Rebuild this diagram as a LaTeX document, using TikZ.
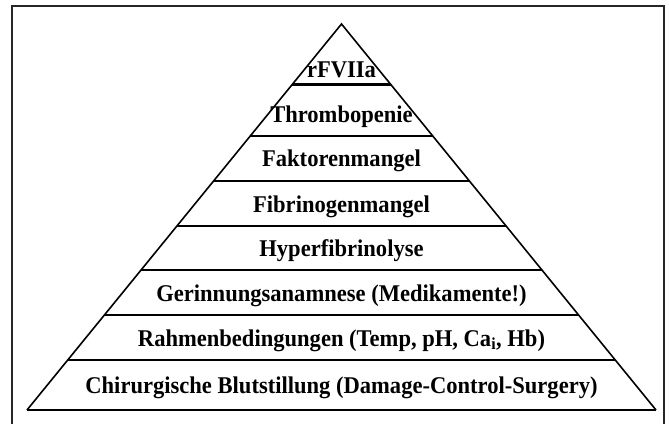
\documentclass[tikz,border=0pt]{standalone}
\usepackage{fontspec}
\setmainfont{Liberation Serif}
\begin{document}
\begin{tikzpicture}[x=1pt,y=-1pt,
  frameline/.style={line width=1.4pt, draw=black!85},
  sideline/.style={line width=1.6pt, line join=miter},
  levelline/.style={line width=2.2pt},
  lbl/.style={font=\bfseries\fontsize{24}{27}\selectfont, inner sep=0pt, anchor=base}]
\useasboundingbox (0,0) rectangle (669,423);
\newcommand{\sq}[1]{\scalebox{0.94}[1]{#1}}
% frame
\draw[frameline] (12,424) -- (12,6) -- (664,6) -- (664,424);
% pyramid corners
\coordinate (A) at (341.5,24);
\coordinate (BL) at (27,410);
\coordinate (BR) at (656,410);
% level points: x = 341.5 -/+ 0.8148*(y-24)
\foreach \n/\y in {1/84.5,2/136,3/181,4/226,5/270,6/315,7/360}{
  \pgfmathsetmacro{\hw}{0.8148*(\y-24)}
  \coordinate (L\n) at ({341.5-\hw},\y);
  \coordinate (R\n) at ({341.5+\hw},\y);
}
\foreach \n in {1,...,7}{\draw[levelline] (L\n) -- (R\n);}
\draw[levelline] (BL) -- (BR);
\draw[sideline] (BL) -- (A) -- (BR);
% labels
\node[lbl] (t1) at (341.5,77) {\sq{rFVIIa}};
\node[lbl] (t2) at (341.5,122) {\sq{Thrombopenie}};
\node[lbl] (t3) at (341.5,166) {\sq{Faktorenmangel}};
\node[lbl] (t4) at (341.5,212) {\sq{Fibrinogenmangel}};
\node[lbl] (t5) at (341.5,256) {\sq{Hyperfibrinolyse}};
\node[lbl] (t6) at (341.5,301) {\sq{Gerinnungsanamnese (Medikamente!)}};
\node[lbl] (t7) at (341.5,346) {\sq{Rahmenbedingungen (Temp, pH, Ca\textsubscript{i}, Hb)}};
\node[lbl] (t8) at (341.5,393) {\sq{Chirurgische Blutstillung (Damage-Control-Surgery)}};
\end{tikzpicture}
\end{document}
